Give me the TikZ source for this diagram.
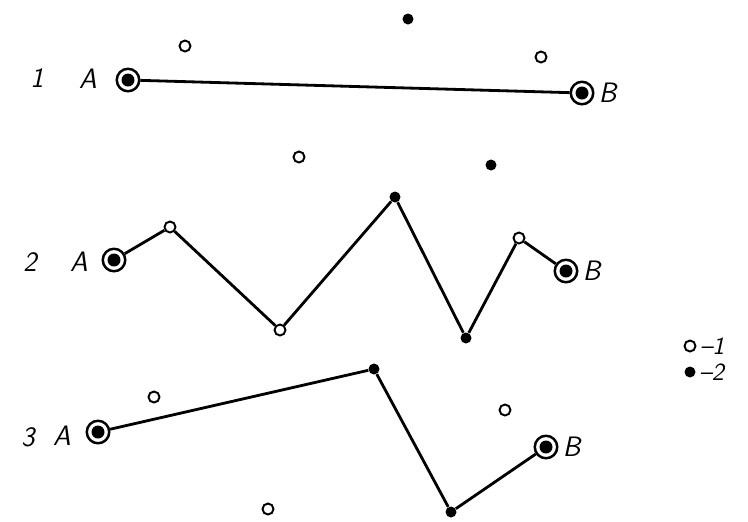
\documentclass[tikz,border=0pt]{standalone}
\usetikzlibrary{positioning}
\tikzset{
  opendot/.style={circle, draw, line width=1.1pt, fill=white, inner sep=0pt, minimum size=2.2mm},
  fulldot/.style={circle, fill=black, inner sep=0pt, minimum size=2.2mm},
  endpt/.style={circle, draw, line width=1.4pt, fill=white, inner sep=0pt, minimum size=4.5mm,
    label={[fulldot, minimum size=2.6mm, label distance=0pt]center:{}}},
  lbl/.style={font=\fontsize{16}{18}\selectfont\sffamily\itshape},
  keylbl/.style={font=\fontsize{14}{15}\selectfont\sffamily\itshape, inner sep=0pt},
  route/.style={line width=1.6pt}
}
\begin{document}
\begin{tikzpicture}[x=0.2mm, y=-0.2mm]
  \useasboundingbox (0,0) rectangle (748,521);

  % route 1
  \node[lbl] (n1) at (37,78) {1};
  \node[lbl] (la1) at (88,79) {A};
  \node[endpt] (a1) at (128,80) {};
  \node[endpt] (b1) at (582,93) {};
  \node[lbl, right=-1pt of b1] (lb1) {B};
  \node[opendot] (o11) at (185,46) {};
  \node[opendot] (o12) at (541,57) {};
  \node[fulldot] (f11) at (408,19) {};
  \draw[route] (a1) -- (b1);

  % route 2
  \node[lbl] (n2) at (30,262) {2};
  \node[lbl] (la2) at (79,262) {A};
  \node[endpt] (a2) at (114,260) {};
  \node[opendot] (p1) at (170,227) {};
  \node[opendot] (p2) at (280,330) {};
  \node[fulldot] (p3) at (395,197) {};
  \node[fulldot] (p4) at (466,338) {};
  \node[opendot] (p5) at (519,238) {};
  \node[endpt] (b2) at (566,271) {};
  \node[lbl, right=-1pt of b2] (lb2) {B};
  \node[opendot] (o21) at (299,157) {};
  \node[fulldot] (f21) at (491,165) {};
  \draw[route] (a2) -- (p1) -- (p2) -- (p3) -- (p4) -- (p5) -- (b2);

  % route 3
  \node[lbl] (n3) at (28,437) {3};
  \node[lbl] (la3) at (62,436) {A};
  \node[endpt] (a3) at (98,432) {};
  \node[fulldot] (q1) at (374,369) {};
  \node[fulldot] (q2) at (451,512) {};
  \node[endpt] (b3) at (546,447) {};
  \node[lbl, right=-1pt of b3] (lb3) {B};
  \node[opendot] (o31) at (154,397) {};
  \node[opendot] (o32) at (505,410) {};
  \node[opendot] (o33) at (268,509) {};
  \draw[route] (a3) -- (q1) -- (q2) -- (b3);

  % legend
  \node[opendot] (k1) at (690,346) {};
  \node[keylbl, right=2pt of k1] (t1) {--1};
  \node[fulldot] (k2) at (690,372) {};
  \node[keylbl, right=2pt of k2] (t2) {--2};
\end{tikzpicture}
\end{document}
